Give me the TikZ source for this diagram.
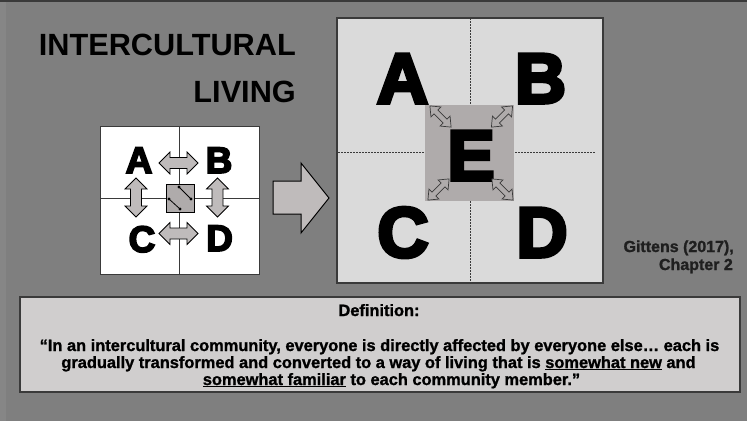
\documentclass[tikz,border=0pt]{standalone}
\usepackage{fontspec}
\setmainfont{Liberation Sans}
\newfontfamily\heavy{Liberation Sans}[BoldFeatures={FakeBold=5}]
\newfontfamily\heavysm{Liberation Sans}[BoldFeatures={FakeBold=4.5}]
\newfontfamily\semiheavy{Liberation Sans}[BoldFeatures={FakeBold=1.2}]
\definecolor{bgc}{HTML}{7F7F7F}
\definecolor{bgl}{HTML}{868686}
\definecolor{edge}{HTML}{3A3A3A}
\definecolor{bigfill}{HTML}{DADADA}
\definecolor{efill}{HTML}{AFABAB}
\definecolor{arrfill}{HTML}{BFBBBB}
\definecolor{deffill}{HTML}{D0CECE}
\tikzset{
  pics/dblarrow/.style n args={4}{code={
    \path[pic actions] (-#1,0) -- (-#1+#2,#3) -- (-#1+#2,#4) -- (#1-#2,#4) -- (#1-#2,#3) -- (#1,0)
      -- (#1-#2,-#3) -- (#1-#2,-#4) -- (-#1+#2,-#4) -- (-#1+#2,-#3) -- cycle;
  }},
  title/.style={font=\fontsize{30.7}{36}\selectfont\bfseries, inner sep=0, anchor=base east},
  bigletter/.style={font=\heavy\bfseries\fontsize{71}{80}\selectfont, inner sep=0, anchor=base},
  smallletter/.style={font=\heavysm\bfseries\fontsize{37}{40}\selectfont, inner sep=0, anchor=base},
  smallarrow/.style={draw=black, fill=arrfill, line width=0.8pt, line join=miter},
  cornerarrow/.style={draw=edge, fill=efill, line width=0.7pt},
  deftext/.style={font=\semiheavy\bfseries\fontsize{16.4}{19}\selectfont, inner sep=0, anchor=base},
  cite/.style={font=\semiheavy\bfseries\fontsize{16}{19}\selectfont, text=black!88, inner sep=0, anchor=base east},
}
\begin{document}
\begin{tikzpicture}[x=1pt,y=-1pt]
\useasboundingbox (0,0) rectangle (747,421);
\fill[bgc] (0,0) rectangle (747,421);
\fill[bgl] (0,0) rectangle (6,421);
\fill[edge] (0,0) rectangle (747,2);

% title
\node[title] (t1) at (296,55) {INTERCULTURAL};
\node[title] (t2) at (296,102) {LIVING};

% small box
\node[draw=edge, fill=white, line width=1pt, minimum width=159pt, minimum height=148pt, inner sep=0] (small) at (179.5,200) {};
\draw[edge, line width=1pt] (179,126) -- (179,274);
\draw[edge, line width=1pt] (100,198) -- (259,198);
\node[smallletter] (sa) at (139,173) {A};
\node[smallletter] (sb) at (219,173) {B};
\node[smallletter] (sc) at (142,252) {C};
\node[smallletter] (sd) at (219.5,251) {D};
\pic[smallarrow] at (178.5,163) {dblarrow={19.5}{11}{11}{5.5}};
\pic[smallarrow] at (178.5,233.5) {dblarrow={19.5}{11}{11}{5.5}};
\pic[smallarrow, rotate=90] at (136,197.5) {dblarrow={19.5}{11}{11}{5.5}};
\pic[smallarrow, rotate=90] at (217.5,197.5) {dblarrow={19.5}{11}{11}{5.5}};
\node[draw=black, fill=efill, line width=0.8pt, minimum size=28pt, inner sep=0] (se) at (180,198) {};
\coordinate (p1) at (179,187);
\coordinate (p2) at (191,199);
\coordinate (p3) at (169,199);
\coordinate (p4) at (180,209);
\draw[black, line width=0.8pt] (p1) -- (p2) (p3) -- (p4);
\foreach \p in {p1,p2,p3,p4} \fill[black] (\p) circle (1.6pt);

% big arrow
\draw[black, fill=arrfill, line width=1pt, line join=miter]
  (273,181) -- (301,181) -- (301,163) -- (329,198) -- (301,233) -- (301,214) -- (273,214) -- cycle;

% big box
\node[draw=edge, fill=bigfill, line width=1.2pt, minimum width=266pt, minimum height=265pt, inner sep=0] (big) at (470,150.5) {};
\draw[edge, line width=0.6pt, dash pattern=on 2pt off 1pt] (470,18) -- (470,283);
\draw[edge, line width=0.6pt, dash pattern=on 2pt off 1pt] (338,152) -- (595,152);
\node[bigletter] (ba) at (402.5,103) {A};
\node[bigletter] (bb) at (540.5,103) {B};
\node[bigletter] (bc) at (403,257) {C};
\node[bigletter] (bd) at (542,257) {D};
\node[fill=efill, minimum width=89pt, minimum height=96pt, inner sep=0] (esq) at (469.5,152.5) {};
\node[bigletter] (be) at (471,180) {E};
\pic[cornerarrow, rotate=-45] at (440.5,116.5) {dblarrow={15}{8.5}{7}{2.7}};
\pic[cornerarrow, rotate=45] at (502,116.5) {dblarrow={15}{8.5}{7}{2.7}};
\pic[cornerarrow, rotate=45] at (438.5,189.5) {dblarrow={15}{8.5}{7}{2.7}};
\pic[cornerarrow, rotate=-45] at (502.5,189.5) {dblarrow={15}{8.5}{7}{2.7}};

% citation
\node[cite] (g1) at (734,252) {Gittens (2017),};
\node[cite] (g2) at (733,270) {Chapter 2};

% definition
\node[draw=edge, fill=deffill, line width=1.6pt, minimum width=720pt, minimum height=95pt, inner sep=0] (def) at (380,344.5) {};
\node[deftext] (dh) at (379,316) {Definition:};
\node[deftext] (q1) at (379.5,351) {“In an intercultural community, everyone is directly affected by everyone else… each is};
\node[deftext] (q2) at (378.5,368) {gradually transformed and converted to a way of living that is \underline{somewhat new} and};
\node[deftext] (q3) at (391.5,385) {\underline{somewhat familiar} to each community member.”};
\end{tikzpicture}
\end{document}
